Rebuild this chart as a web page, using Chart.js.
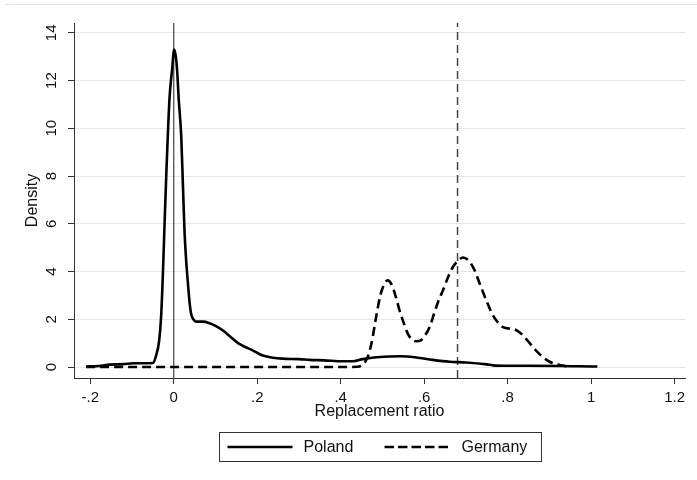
<!DOCTYPE html>
<html>
<head>
<meta charset="utf-8">
<script src="https://cdn.jsdelivr.net/npm/chart.js@4.4.1/dist/chart.umd.min.js"></script>
<style>
  body { margin: 0; background: #fff; }
  #wrap { width: 697px; height: 480px; }
</style>
</head>
<body>
<div id="wrap"><canvas id="grafico" width="697" height="480"></canvas></div>
<script>
// datos (densidad kernel)
const seriesNames = ["Poland", "Germany"];

const polandX = [-0.21, -0.18, -0.153, -0.12, -0.097, -0.07, -0.05, -0.042, -0.035, -0.03, -0.026, -0.022, -0.018, -0.014, -0.01, -0.004, 0.001, 0.005, 0.008, 0.012, 0.018, 0.022, 0.026, 0.03, 0.034, 0.038, 0.042, 0.047, 0.053, 0.07, 0.086, 0.1, 0.118, 0.135, 0.154, 0.17, 0.19, 0.21, 0.238, 0.26, 0.3, 0.326, 0.36, 0.405, 0.43, 0.453, 0.48, 0.517, 0.545, 0.581, 0.62, 0.661, 0.7, 0.75, 0.765, 0.8, 0.85, 0.93, 0.97, 1.015];
const polandY = [0.02, 0.04, 0.1, 0.12, 0.16, 0.16, 0.17, 0.5, 1.1, 2.2, 3.9, 6.0, 8.0, 9.8, 11.3, 12.45, 13.3, 13.0, 12.45, 11.2, 9.65, 7.6, 5.6, 4.4, 3.5, 2.7, 2.2, 2.0, 1.9, 1.9, 1.83, 1.72, 1.53, 1.28, 1.0, 0.85, 0.69, 0.5, 0.39, 0.35, 0.33, 0.30, 0.28, 0.24, 0.24, 0.33, 0.4, 0.44, 0.45, 0.4, 0.3, 0.22, 0.19, 0.11, 0.07, 0.05, 0.05, 0.04, 0.03, 0.02];

const germanyX = [-0.21, 0.0, 0.2, 0.4, 0.44, 0.45, 0.458, 0.466, 0.475, 0.486, 0.495, 0.505, 0.513, 0.522, 0.532, 0.541, 0.551, 0.561, 0.571, 0.581, 0.592, 0.603, 0.613, 0.625, 0.635, 0.645, 0.657, 0.669, 0.681, 0.693, 0.707, 0.721, 0.735, 0.749, 0.761, 0.773, 0.789, 0.8, 0.813, 0.825, 0.837, 0.849, 0.861, 0.873, 0.885, 0.897, 0.908, 0.92, 0.932, 0.942];
const germanyY = [0, 0, 0, 0, 0.01, 0.06, 0.2, 0.48, 1.1, 2.2, 3.0, 3.5, 3.63, 3.45, 2.95, 2.37, 1.85, 1.39, 1.15, 1.08, 1.12, 1.35, 1.67, 2.3, 2.8, 3.21, 3.75, 4.19, 4.45, 4.59, 4.45, 4.05, 3.4, 2.79, 2.3, 1.95, 1.67, 1.62, 1.6, 1.5, 1.32, 1.08, 0.83, 0.6, 0.41, 0.26, 0.16, 0.1, 0.06, 0.02];

// lineas verticales de referencia
const refLines = [0, 0.68];

const xTicks = [-0.2, 0, 0.2, 0.4, 0.6, 0.8, 1, 1.2];
const xTickLabels = ["-.2", "0", ".2", ".4", ".6", ".8", "1", "1.2"];
const yTicks = [0, 2, 4, 6, 8, 10, 12, 14];
const yTickLabels = ["0", "2", "4", "6", "8", "10", "12", "14"];

const FUENTE = "'Liberation Sans', Arial, sans-serif";
const OSCURO = '#333';

const toPts = (xs, ys) => xs.map((x, i) => ({ x: x, y: ys[i] }));

// etiquetas del eje y giradas, leyenda con marco y borde superior
const extras = {
    id: 'extras',
    beforeDraw(chart) {
        const ctx = chart.ctx;
        ctx.save();
        ctx.strokeStyle = '#e4e6ee';
        ctx.lineWidth = 1;
        ctx.beginPath();
        ctx.moveTo(5, 4.5); ctx.lineTo(697, 4.5);
        ctx.stroke();
        ctx.restore();
    },
    afterDraw(chart) {
        const ctx = chart.ctx;
        const sy = chart.scales.y;
        const area = chart.chartArea;
        ctx.save();
        ctx.font = '15px ' + FUENTE;
        ctx.fillStyle = '#111';
        ctx.textAlign = 'center';
        ctx.textBaseline = 'middle';
        yTicks.forEach((v, i) => {
            ctx.save();
            ctx.translate(sy.right - 22, sy.getPixelForValue(v));
            ctx.rotate(-Math.PI / 2);
            ctx.fillText(yTickLabels[i], 0, 0);
            ctx.restore();
        });

        // leyenda
        const w = 322, h = 29;
        const cx = (area.left + area.right) / 2;
        const bx = Math.round(cx - w / 2) + 0.5, by = 432.5;
        ctx.strokeStyle = OSCURO;
        ctx.lineWidth = 1;
        ctx.strokeRect(bx, by, w, h);
        const my = by + h / 2;
        ctx.strokeStyle = '#000';
        ctx.lineWidth = 2.5;
        ctx.beginPath(); ctx.moveTo(bx + 8, my); ctx.lineTo(bx + 73, my); ctx.stroke();
        ctx.setLineDash([9.5, 4]);
        ctx.beginPath(); ctx.moveTo(bx + 165, my); ctx.lineTo(bx + 232, my); ctx.stroke();
        ctx.setLineDash([]);
        ctx.font = '16px ' + FUENTE;
        ctx.fillStyle = '#111';
        ctx.textAlign = 'left';
        ctx.fillText(seriesNames[0], bx + 84, my + 1);
        ctx.fillText(seriesNames[1], bx + 242, my + 1);
        ctx.restore();
    }
};

const ctx = document.getElementById('grafico').getContext('2d');
const chart = new Chart(ctx, {
    type: 'line',
    data: {
        datasets: [
            {
                label: seriesNames[0],
                data: toPts(polandX, polandY),
                borderColor: '#000',
                borderWidth: 2.6,
                pointRadius: 0,
                cubicInterpolationMode: 'monotone'
            },
            {
                label: seriesNames[1],
                data: toPts(germanyX, germanyY),
                borderColor: '#000',
                borderWidth: 2.6,
                borderDash: [9, 5],
                pointRadius: 0,
                cubicInterpolationMode: 'monotone'
            },
            {
                label: 'ref0',
                data: [{ x: refLines[0], y: -1 }, { x: refLines[0], y: 15 }],
                borderColor: '#444',
                borderWidth: 1.2,
                pointRadius: 0
            },
            {
                label: 'ref1',
                data: [{ x: refLines[1], y: -1 }, { x: refLines[1], y: 15 }],
                borderColor: '#444',
                borderWidth: 1.5,
                borderDash: [8, 5],
                pointRadius: 0
            }
        ]
    },
    options: {
        responsive: false,
        animation: false,
        layout: { padding: { left: 0, top: 23, right: 12, bottom: 58 } },
        plugins: {
            legend: { display: false },
            tooltip: { enabled: false }
        },
        scales: {
            x: {
                type: 'linear',
                min: -0.239,
                max: 1.225,
                afterBuildTicks: s => { s.ticks = xTicks.map(v => ({ value: v })); },
                afterFit: s => { s.height = 44; },
                ticks: {
                    autoSkip: false,
                    maxRotation: 0,
                    padding: 5,
                    color: '#111',
                    font: { family: FUENTE, size: 15 },
                    callback: (v, i) => xTickLabels[i]
                },
                grid: { drawOnChartArea: false, drawTicks: true, tickLength: 6, tickColor: OSCURO },
                border: { color: OSCURO, width: 1 },
                title: {
                    display: true,
                    text: 'Replacement ratio',
                    color: '#111',
                    font: { family: FUENTE, size: 16 },
                    padding: { top: 0, bottom: 1 }
                }
            },
            y: {
                type: 'linear',
                min: -0.46,
                max: 14.41,
                afterBuildTicks: s => { s.ticks = yTicks.map(v => ({ value: v })); },
                afterFit: s => { s.width = 74; },
                ticks: { display: false },
                grid: { color: '#e6e6e6', lineWidth: 1, drawTicks: true, tickLength: 6, tickColor: OSCURO },
                border: { color: OSCURO, width: 1 },
                title: {
                    display: true,
                    text: 'Density',
                    color: '#111',
                    font: { family: FUENTE, size: 16 },
                    padding: { top: 23, bottom: 0 }
                }
            }
        }
    },
    plugins: [extras]
});
</script>
</body>
</html>
